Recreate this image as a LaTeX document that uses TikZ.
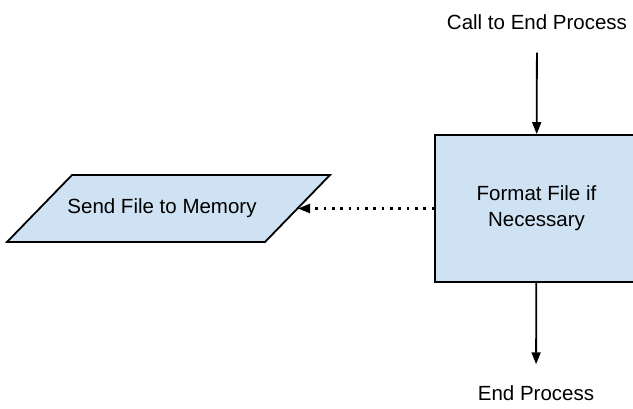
\documentclass[tikz,border=0pt]{standalone}
\usepackage{fontspec}
\setmainfont{Liberation Sans}
\usepackage{tikz}
\usetikzlibrary{positioning,arrows.meta}
\usepackage{xcolor}
\definecolor{fblue}{RGB}{207,226,243}
\tikzset{fbox/.style={draw,line width=1.8pt,fill=fblue,align=center,inner sep=0pt},
  farr/.style={-{Triangle[length=12pt,width=9pt]},line width=1.8pt},
  flbl/.style={inner sep=2pt}}

\begin{document}
\begin{tikzpicture}[x=1pt,y=-1pt,font=\fontsize{20.5}{26}\selectfont]
    \clip (0,0) rectangle (633,408);
    \node[fbox,minimum width=203pt,minimum height=147pt] (fmt) at (536.5,208.5) {Format File if\\Necessary};
    % parallelogram for the memory step
    \draw[fbox,line join=miter] (7,242) -- (72,175) -- (330,175) -- (265,242) -- cycle;
    \node (mem) at (162,208.5) {Send File to Memory};
    \coordinate (memedge) at (298,208.5);
    \node[flbl] (call) at (537,22) {Call to End Process};
    \node[flbl] (endp) at (536,393) {End Process};
    \draw[farr,shorten <=21pt] (call) -- (fmt);
    \draw[farr,shorten >=19pt] (fmt) -- (endp);
    \draw[farr,line width=2.3pt,dash pattern=on 2.6pt off 5.7pt] (fmt.west) -- (memedge);
  \end{tikzpicture}
\end{document}
